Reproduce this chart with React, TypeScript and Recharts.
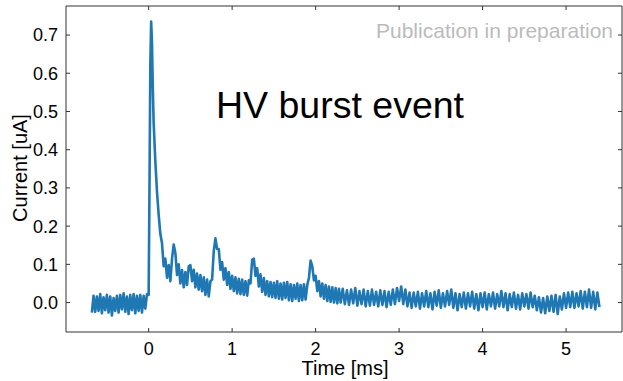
import React from 'react';
import { LineChart, Line, XAxis, YAxis } from 'recharts';

// [time ms, current uA]
const preTrigger: [number, number][] = [
  [-0.68, -0.026], [-0.66, 0.018], [-0.64, -0.024], [-0.62, 0.016], [-0.6, -0.022], [-0.58, 0.022],
  [-0.56, -0.028], [-0.54, 0.014], [-0.52, -0.02], [-0.5, 0.02], [-0.48, -0.026], [-0.46, 0.016],
  [-0.44, -0.034], [-0.42, 0.012], [-0.4, -0.022], [-0.38, 0.018], [-0.36, -0.026], [-0.34, 0.02],
  [-0.32, -0.018], [-0.3, 0.024], [-0.28, -0.024], [-0.26, 0.016], [-0.24, -0.03], [-0.22, 0.02],
  [-0.2, -0.02], [-0.18, 0.022], [-0.16, -0.028], [-0.14, 0.018], [-0.12, -0.022], [-0.1, 0.02],
  [-0.08, -0.026], [-0.06, 0.018], [-0.04, -0.016], [-0.02, 0.022],
];

const burst: [number, number][] = [
  [0, 0.02], [0.01, 0.3], [0.02, 0.62], [0.03, 0.735], [0.04, 0.68], [0.05, 0.56], [0.06, 0.47],
  [0.08, 0.37], [0.1, 0.29], [0.12, 0.23], [0.14, 0.18], [0.16, 0.155], [0.18, 0.095], [0.2, 0.115],
  [0.22, 0.065], [0.24, 0.098], [0.26, 0.056], [0.28, 0.115], [0.3, 0.152], [0.32, 0.13], [0.34, 0.072],
  [0.36, 0.1], [0.38, 0.05], [0.4, 0.085], [0.42, 0.04], [0.44, 0.08], [0.46, 0.046], [0.48, 0.095],
  [0.5, 0.098], [0.52, 0.056], [0.54, 0.086], [0.56, 0.04], [0.58, 0.076], [0.6, 0.034], [0.62, 0.072],
  [0.64, 0.03], [0.66, 0.066], [0.68, 0.02], [0.7, 0.06], [0.72, 0.016], [0.74, 0.056], [0.76, 0.06],
  [0.78, 0.135], [0.8, 0.168], [0.82, 0.14], [0.84, 0.14], [0.86, 0.086], [0.88, 0.106], [0.9, 0.06],
  [0.92, 0.09], [0.94, 0.046], [0.96, 0.08], [0.98, 0.036], [1.0, 0.07], [1.02, 0.03], [1.04, 0.066],
  [1.06, 0.024], [1.08, 0.062], [1.1, 0.022], [1.12, 0.06], [1.14, 0.02], [1.16, 0.056], [1.18, 0.018],
  [1.2, 0.058], [1.22, 0.05], [1.24, 0.112], [1.26, 0.115], [1.28, 0.07], [1.3, 0.09], [1.32, 0.042],
  [1.34, 0.074], [1.36, 0.028], [1.38, 0.064], [1.4, 0.02], [1.42, 0.056], [1.44, 0.016], [1.46, 0.054],
  [1.48, 0.014], [1.5, 0.052], [1.52, 0.012], [1.54, 0.056], [1.56, 0.01], [1.58, 0.05], [1.6, 0.008],
  [1.62, 0.052], [1.64, 0.012], [1.66, 0.054], [1.68, 0.006], [1.7, 0.048], [1.72, 0.004], [1.74, 0.046],
  [1.76, 0.01], [1.78, 0.05], [1.8, 0.004], [1.82, 0.046], [1.84, 0.006], [1.86, 0.048], [1.88, 0.008],
  [1.9, 0.046], [1.92, 0.065], [1.94, 0.11], [1.96, 0.095], [1.98, 0.058], [2.0, 0.07], [2.02, 0.03],
  [2.04, 0.056], [2.06, 0.016], [2.08, 0.05], [2.1, 0.01], [2.12, 0.046], [2.14, 0.004], [2.16, 0.042],
  [2.18, 0.002], [2.2, 0.04], [2.22, 0.0], [2.24, 0.038], [2.26, -0.002], [2.28, 0.036], [2.3, 0.0],
];

const tail: [number, number][] = [
  [2.325, 0.036], [2.35, -0.004], [2.375, 0.032], [2.4, -0.006], [2.425, 0.034], [2.45, -0.002],
  [2.475, 0.038], [2.5, -0.008], [2.525, 0.03], [2.55, -0.004], [2.575, 0.034], [2.6, -0.01],
  [2.625, 0.03], [2.65, -0.008], [2.675, 0.034], [2.7, -0.006], [2.725, 0.028], [2.75, -0.01],
  [2.775, 0.032], [2.8, -0.006], [2.825, 0.03], [2.85, -0.012], [2.875, 0.028], [2.9, -0.006],
  [2.925, 0.034], [2.95, -0.004], [2.975, 0.038], [3.0, 0.004], [3.025, 0.042], [3.05, -0.004],
  [3.075, 0.034], [3.1, -0.01], [3.125, 0.026], [3.15, -0.014], [3.175, 0.026], [3.2, -0.01],
  [3.225, 0.028], [3.25, -0.016], [3.275, 0.024], [3.3, -0.01], [3.325, 0.03], [3.35, -0.012],
  [3.375, 0.024], [3.4, -0.018], [3.425, 0.028], [3.45, -0.008], [3.475, 0.032], [3.5, -0.014],
  [3.525, 0.024], [3.55, -0.01], [3.575, 0.03], [3.6, -0.006], [3.625, 0.034], [3.65, -0.014],
  [3.675, 0.024], [3.7, -0.02], [3.725, 0.022], [3.75, -0.012], [3.775, 0.026], [3.8, -0.016],
  [3.825, 0.024], [3.85, -0.01], [3.875, 0.028], [3.9, -0.016], [3.925, 0.022], [3.95, -0.02],
  [3.975, 0.024], [4.0, -0.012], [4.025, 0.026], [4.05, -0.018], [4.075, 0.022], [4.1, -0.01],
  [4.125, 0.026], [4.15, -0.016], [4.175, 0.022], [4.2, -0.01], [4.225, 0.03], [4.25, -0.012],
  [4.275, 0.024], [4.3, -0.02], [4.325, 0.022], [4.35, -0.012], [4.375, 0.026], [4.4, -0.016],
  [4.425, 0.02], [4.45, -0.018], [4.475, 0.024], [4.5, -0.01], [4.525, 0.022], [4.55, -0.016],
  [4.575, 0.026], [4.6, -0.012], [4.625, 0.018], [4.65, -0.02], [4.675, 0.014], [4.7, -0.026],
  [4.725, 0.012], [4.75, -0.028], [4.775, 0.016], [4.8, -0.022], [4.825, 0.018], [4.85, -0.024],
  [4.875, 0.02], [4.9, -0.03], [4.925, 0.016], [4.95, -0.018], [4.975, 0.024], [5.0, -0.014],
  [5.025, 0.026], [5.05, -0.012], [5.075, 0.028], [5.1, -0.014], [5.125, 0.024], [5.15, -0.01],
  [5.175, 0.03], [5.2, -0.016], [5.225, 0.028], [5.25, -0.012], [5.275, 0.034], [5.3, -0.014],
  [5.325, 0.028], [5.35, -0.018], [5.375, 0.026], [5.4, -0.012],
];

const xTicks = [0, 1, 2, 3, 4, 5];
const yTicks = [0, 0.1, 0.2, 0.3, 0.4, 0.5, 0.6, 0.7];
const xDomain: [number, number] = [-0.99, 5.67];
const yDomain: [number, number] = [-0.077, 0.776];

const data = [...preTrigger, ...burst, ...tail].map(([t, v]) => ({ t, v }));

const FONT = '"Liberation Sans", Arial, sans-serif';
const AXIS = '#333';
const TICK_LEN = 4;
const X_MARGIN = 10;
const Y_MARGIN = 8;

const BottomTick = (props: any) => {
  const { x, y, payload } = props;
  const axisY = y - X_MARGIN;
  return (
    <g>
      <line x1={x} x2={x} y1={axisY} y2={axisY - TICK_LEN} stroke={AXIS} strokeWidth={1} />
      <text x={x} y={y} dy="0.71em" textAnchor="middle" fontSize={18} fill="#000" fontFamily={FONT}>
        {payload.value}
      </text>
    </g>
  );
};

const TopTick = (props: any) => {
  const { x, y } = props;
  return <line x1={x} x2={x} y1={y} y2={y + TICK_LEN} stroke={AXIS} strokeWidth={1} />;
};

const LeftTick = (props: any) => {
  const { x, y, payload } = props;
  const axisX = x + Y_MARGIN;
  return (
    <g>
      <line x1={axisX} x2={axisX + TICK_LEN} y1={y} y2={y} stroke={AXIS} strokeWidth={1} />
      <text x={x} y={y} dy="0.355em" textAnchor="end" fontSize={18} fill="#000" fontFamily={FONT}>
        {Number(payload.value).toFixed(1)}
      </text>
    </g>
  );
};

const RightTick = (props: any) => {
  const { x, y } = props;
  return <line x1={x} x2={x - TICK_LEN} y1={y} y2={y} stroke={AXIS} strokeWidth={1} />;
};

export default function App() {
  return (
    <div style={{ position: 'absolute', left: 0, top: 0, width: 623, height: 381, background: '#fff' }}>
      <LineChart
        width={623}
        height={381}
        data={data}
        margin={{ top: 5, right: 0, bottom: 0, left: 0 }}
        style={{ fontFamily: FONT }}
      >
        <XAxis
          xAxisId="b"
          type="number"
          dataKey="t"
          domain={xDomain}
          allowDataOverflow
          ticks={xTicks}
          height={49}
          tickSize={0}
          tickMargin={X_MARGIN}
          tickLine={false}
          stroke={AXIS}
          tick={<BottomTick />}
          interval={0}
        />
        <XAxis
          xAxisId="t"
          orientation="top"
          type="number"
          dataKey="t"
          domain={xDomain}
          allowDataOverflow
          ticks={xTicks}
          height={1}
          tickSize={0}
          tickMargin={0}
          tickLine={false}
          tick={<TopTick />}
          stroke={AXIS}
          interval={0}
        />
        <YAxis
          yAxisId="l"
          type="number"
          domain={yDomain}
          allowDataOverflow
          ticks={yTicks}
          width={66}
          tickSize={0}
          tickMargin={Y_MARGIN}
          tickLine={false}
          stroke={AXIS}
          tick={<LeftTick />}
          interval={0}
        />
        <YAxis
          yAxisId="r"
          orientation="right"
          type="number"
          domain={yDomain}
          allowDataOverflow
          ticks={yTicks}
          width={1}
          tickSize={0}
          tickMargin={0}
          tickLine={false}
          tick={<RightTick />}
          stroke={AXIS}
          interval={0}
        />
        <Line
          xAxisId="b"
          yAxisId="l"
          type="linear"
          dataKey="v"
          stroke="#1f77b4"
          strokeWidth={2.6}
          strokeLinejoin="round"
          dot={false}
          isAnimationActive={false}
        />
      </LineChart>
      <svg
        width={623}
        height={381}
        style={{ position: 'absolute', left: 0, top: 0, pointerEvents: 'none' }}
      >
        <text x={613} y={38} textAnchor="end" fontSize={21} fill="#bbbbbb" fontFamily={FONT}>
          Publication in preparation
        </text>
        <text x={216} y={118} fontSize={37.5} fill="#000" fontFamily={FONT}>
          HV burst event
        </text>
        <text x={345} y={375} textAnchor="middle" fontSize={20} fill="#000" fontFamily={FONT}>
          Time [ms]
        </text>
        <text
          x={0}
          y={0}
          transform="translate(27,168) rotate(-90)"
          textAnchor="middle"
          fontSize={20}
          fill="#000"
          fontFamily={FONT}
        >
          Current [uA]
        </text>
      </svg>
    </div>
  );
}
